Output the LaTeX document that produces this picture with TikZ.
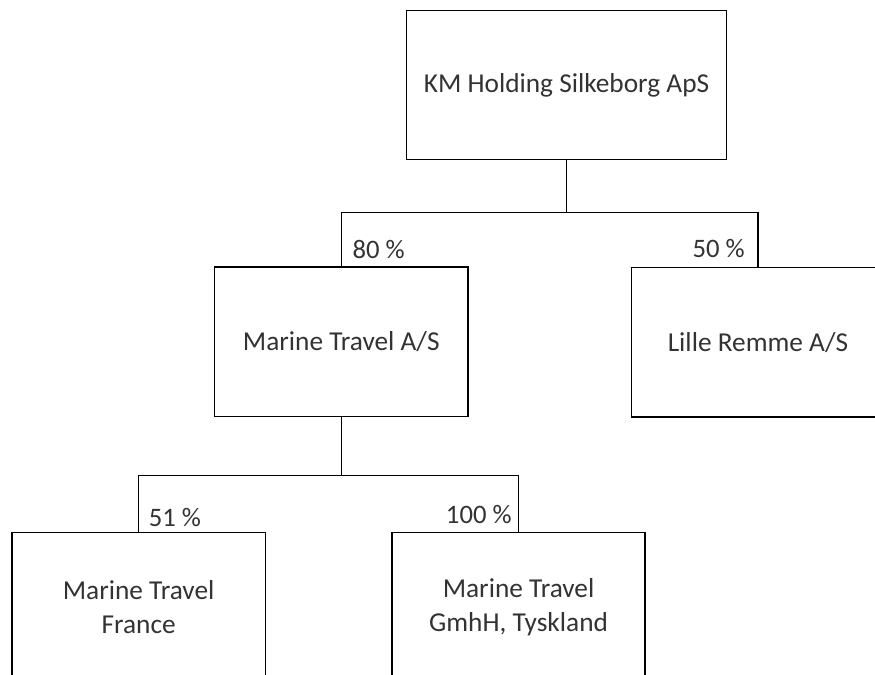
\documentclass[tikz,border=0pt]{standalone}
\usepackage{fontspec}
\setmainfont{Carlito}
\usetikzlibrary{positioning}
\tikzset{
    firm/.style ={
        shape=rectangle,
        draw=black,
        line width=1.1pt,
        text=black!80,
        align=center,
        minimum width=190pt,
        minimum height=112pt,
        font=\fontsize{20.5}{25}\selectfont
    },
    share/.style ={
        text=black!80,
        inner sep=2pt,
        font=\fontsize{20}{24}\selectfont
    },
    link/.style ={
        line width=1.1pt
    }
}

\begin{document}
\begin{tikzpicture}
    \useasboundingbox (-425pt,-442.5pt) rectangle (231.4pt,63.75pt);
    \clip (-425pt,-442.5pt) rectangle (231.4pt,63.75pt);
    \node[firm,minimum width=240pt] (km) {KM Holding Silkeborg ApS};
    \node[firm,below=79.5pt of km,xshift=-169pt] (mt) {Marine Travel A/S};
    \node[firm,below=80pt of km,xshift=143.6pt] (lr) {Lille Remme A/S};
    \node[firm,below=86pt of mt,xshift=-152pt] (fr) {Marine Travel\\France};
    \node[firm,below=86pt of mt,xshift=133pt] (ty) {Marine Travel\\GmhH, Tyskland};
    \coordinate[below=39pt of km.south] (top);
    \coordinate[below=44pt of mt.south] (mid);
    \draw[link] (km.south) -- (top);
    \draw[link] (top) -| (mt.north);
    \draw[link] (top) -| (lr.north);
    \draw[link] (mt.south) -- (mid);
    \draw[link] (mid) -| (fr.north);
    \draw[link] (mid) -| (ty.north);
    \node[share,anchor=base west,xshift=6.25pt,yshift=6pt] (p80) at (mt.north) {80 \%};
    \node[share,anchor=base east,xshift=-7.75pt,yshift=7.5pt] (p50) at (lr.north) {50 \%};
    \node[share,anchor=base west,xshift=5.5pt,yshift=4pt] (p51) at (fr.north) {51 \%};
    \node[share,anchor=base east,xshift=-3pt,yshift=6pt] (p100) at (ty.north) {100 \%};
\end{tikzpicture}
\end{document}
